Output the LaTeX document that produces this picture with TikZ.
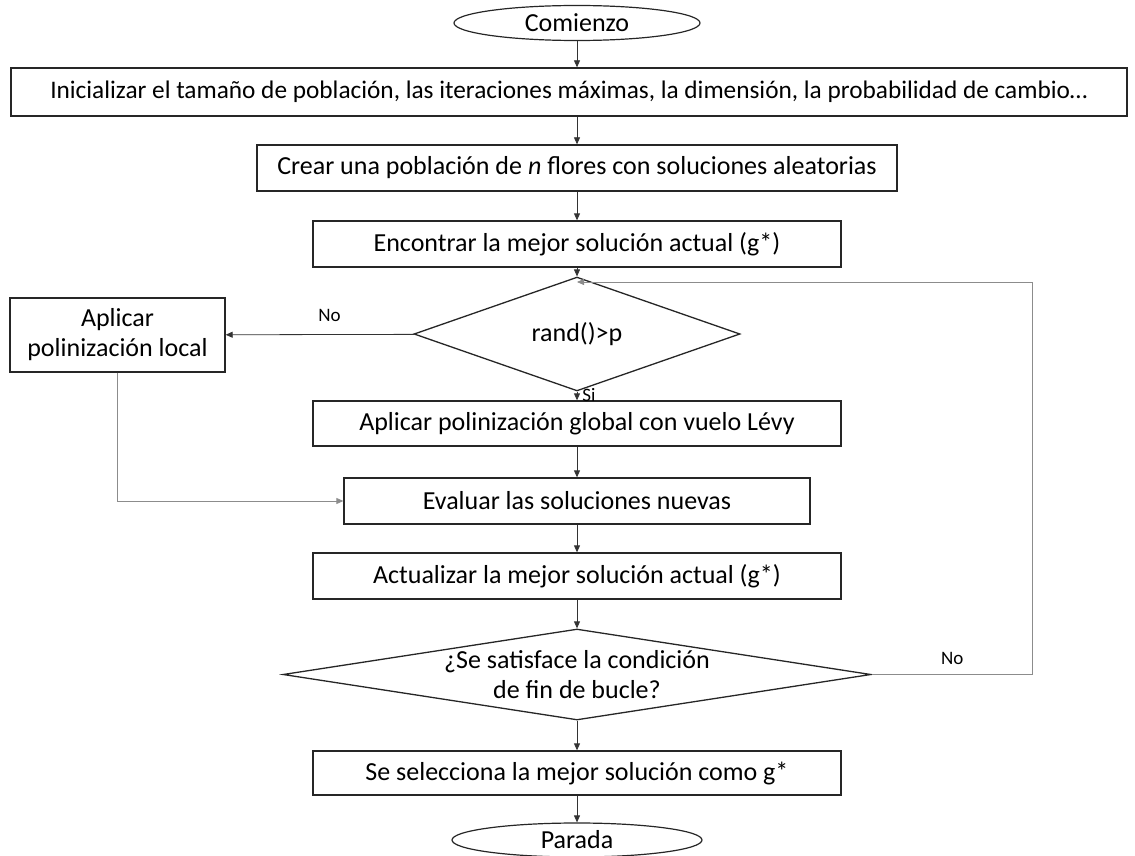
\documentclass[tikz,border=0pt]{standalone}
\usepackage{fontspec}
\setmainfont{Carlito}
\usetikzlibrary{arrows.meta,positioning,shapes.geometric}

\begin{document}
\begin{tikzpicture}[
    x=1pt, y=-1pt,
    font=\fontsize{26}{30}\selectfont,
    >={Triangle[length=7pt,width=6pt]},
    term/.style={
      ellipse, draw=black!85, line width=1.2pt, fill=white,
      inner sep=0pt, minimum height=35pt, minimum width=246pt,
    },
    stepbox/.style={
      rectangle, draw=black!85, line width=1.3pt, fill=white,
      inner sep=0pt, minimum height=46pt, align=center,
    },
    decision/.style={
      diamond, draw=black!85, line width=1.3pt, fill=white,
      inner sep=0pt, align=center,
    },
    flow/.style={->, line width=0.8pt, draw=black!80},
    back/.style={->, line width=0.8pt, draw=black!45},
    lbl/.style={font=\fontsize{19}{21}\selectfont, inner sep=0pt},
  ]
    \useasboundingbox (0,0) rectangle (1135,856);

    % ===== Main column =====
    \node[term] (start) at (577, 23) {Comienzo};
    \node[stepbox, minimum width=1116pt, minimum height=48pt,
          font=\fontsize{25.3}{30}\selectfont] (init) at (569, 92) {%
      Inicializar el tamaño de población, las iteraciones máximas, la dimensión, la probabilidad de cambio…};
    \node[stepbox, minimum width=640pt] (crear) at (577, 168) {%
      Crear una población de \emph{n} flores con soluciones aleatorias};
    \node[stepbox, minimum width=528pt] (best) at (577, 244) {%
      Encontrar la mejor solución actual (g*)};

    \node[decision, minimum width=326pt, minimum height=72pt] (rand) at (577, 334) {rand()>p};
    \node[stepbox, minimum width=215pt, minimum height=74pt] (local) at (117.5, 335) {%
      Aplicar\\polinización local};

    \node[stepbox, minimum width=528pt, minimum height=45pt] (global) at (577, 423.5) {%
      Aplicar polinización global con vuelo Lévy};
    \node[stepbox, minimum width=466pt] (eval) at (577, 501) {%
      Evaluar las soluciones nuevas};
    \node[stepbox, minimum width=528pt] (update) at (577, 576) {%
      Actualizar la mejor solución actual (g*)};

    \node[decision, minimum width=588pt, minimum height=91pt] (cond) at (577, 674.5) {};
    \node[align=center, inner sep=0pt] (condtxt) at (cond.center) {%
      ¿Se satisface la condición\\de fin de bucle?};

    \node[stepbox, minimum width=528pt, minimum height=44pt] (select) at (577, 773) {%
      Se selecciona la mejor solución como g*};
    \node[term, minimum width=250pt, minimum height=34pt] (stop) at (577, 840) {Parada};

    \coordinate (loopin) at (577, 282);

    % ===== Connectors =====
    \draw[flow] (start.south) -- (start.south |- init.north);
    \draw[flow] (init.south -| crear.north) -- (crear.north);
    \draw[flow] (crear) -- (best);
    \draw[flow] (best) -- (rand);
    \draw[flow] (rand) -- node[lbl, pos=0.45, above=13pt] {No} (local);
    \draw[flow] (rand) -- node[lbl, pos=0.4, anchor=west, xshift=5pt] {Si} (global);
    \draw[back] (local.south) |- (eval.west);
    \draw[flow] (global) -- (eval);
    \draw[flow] (eval) -- (update);
    \draw[flow] (update) -- (cond);
    \draw[back] (cond.east) -- node[lbl, above=9pt] {No} ++(161, 0) |- (loopin);
    \draw[flow] (cond) -- (select);
    \draw[flow] (select) -- (stop);

  \end{tikzpicture}
\end{document}
